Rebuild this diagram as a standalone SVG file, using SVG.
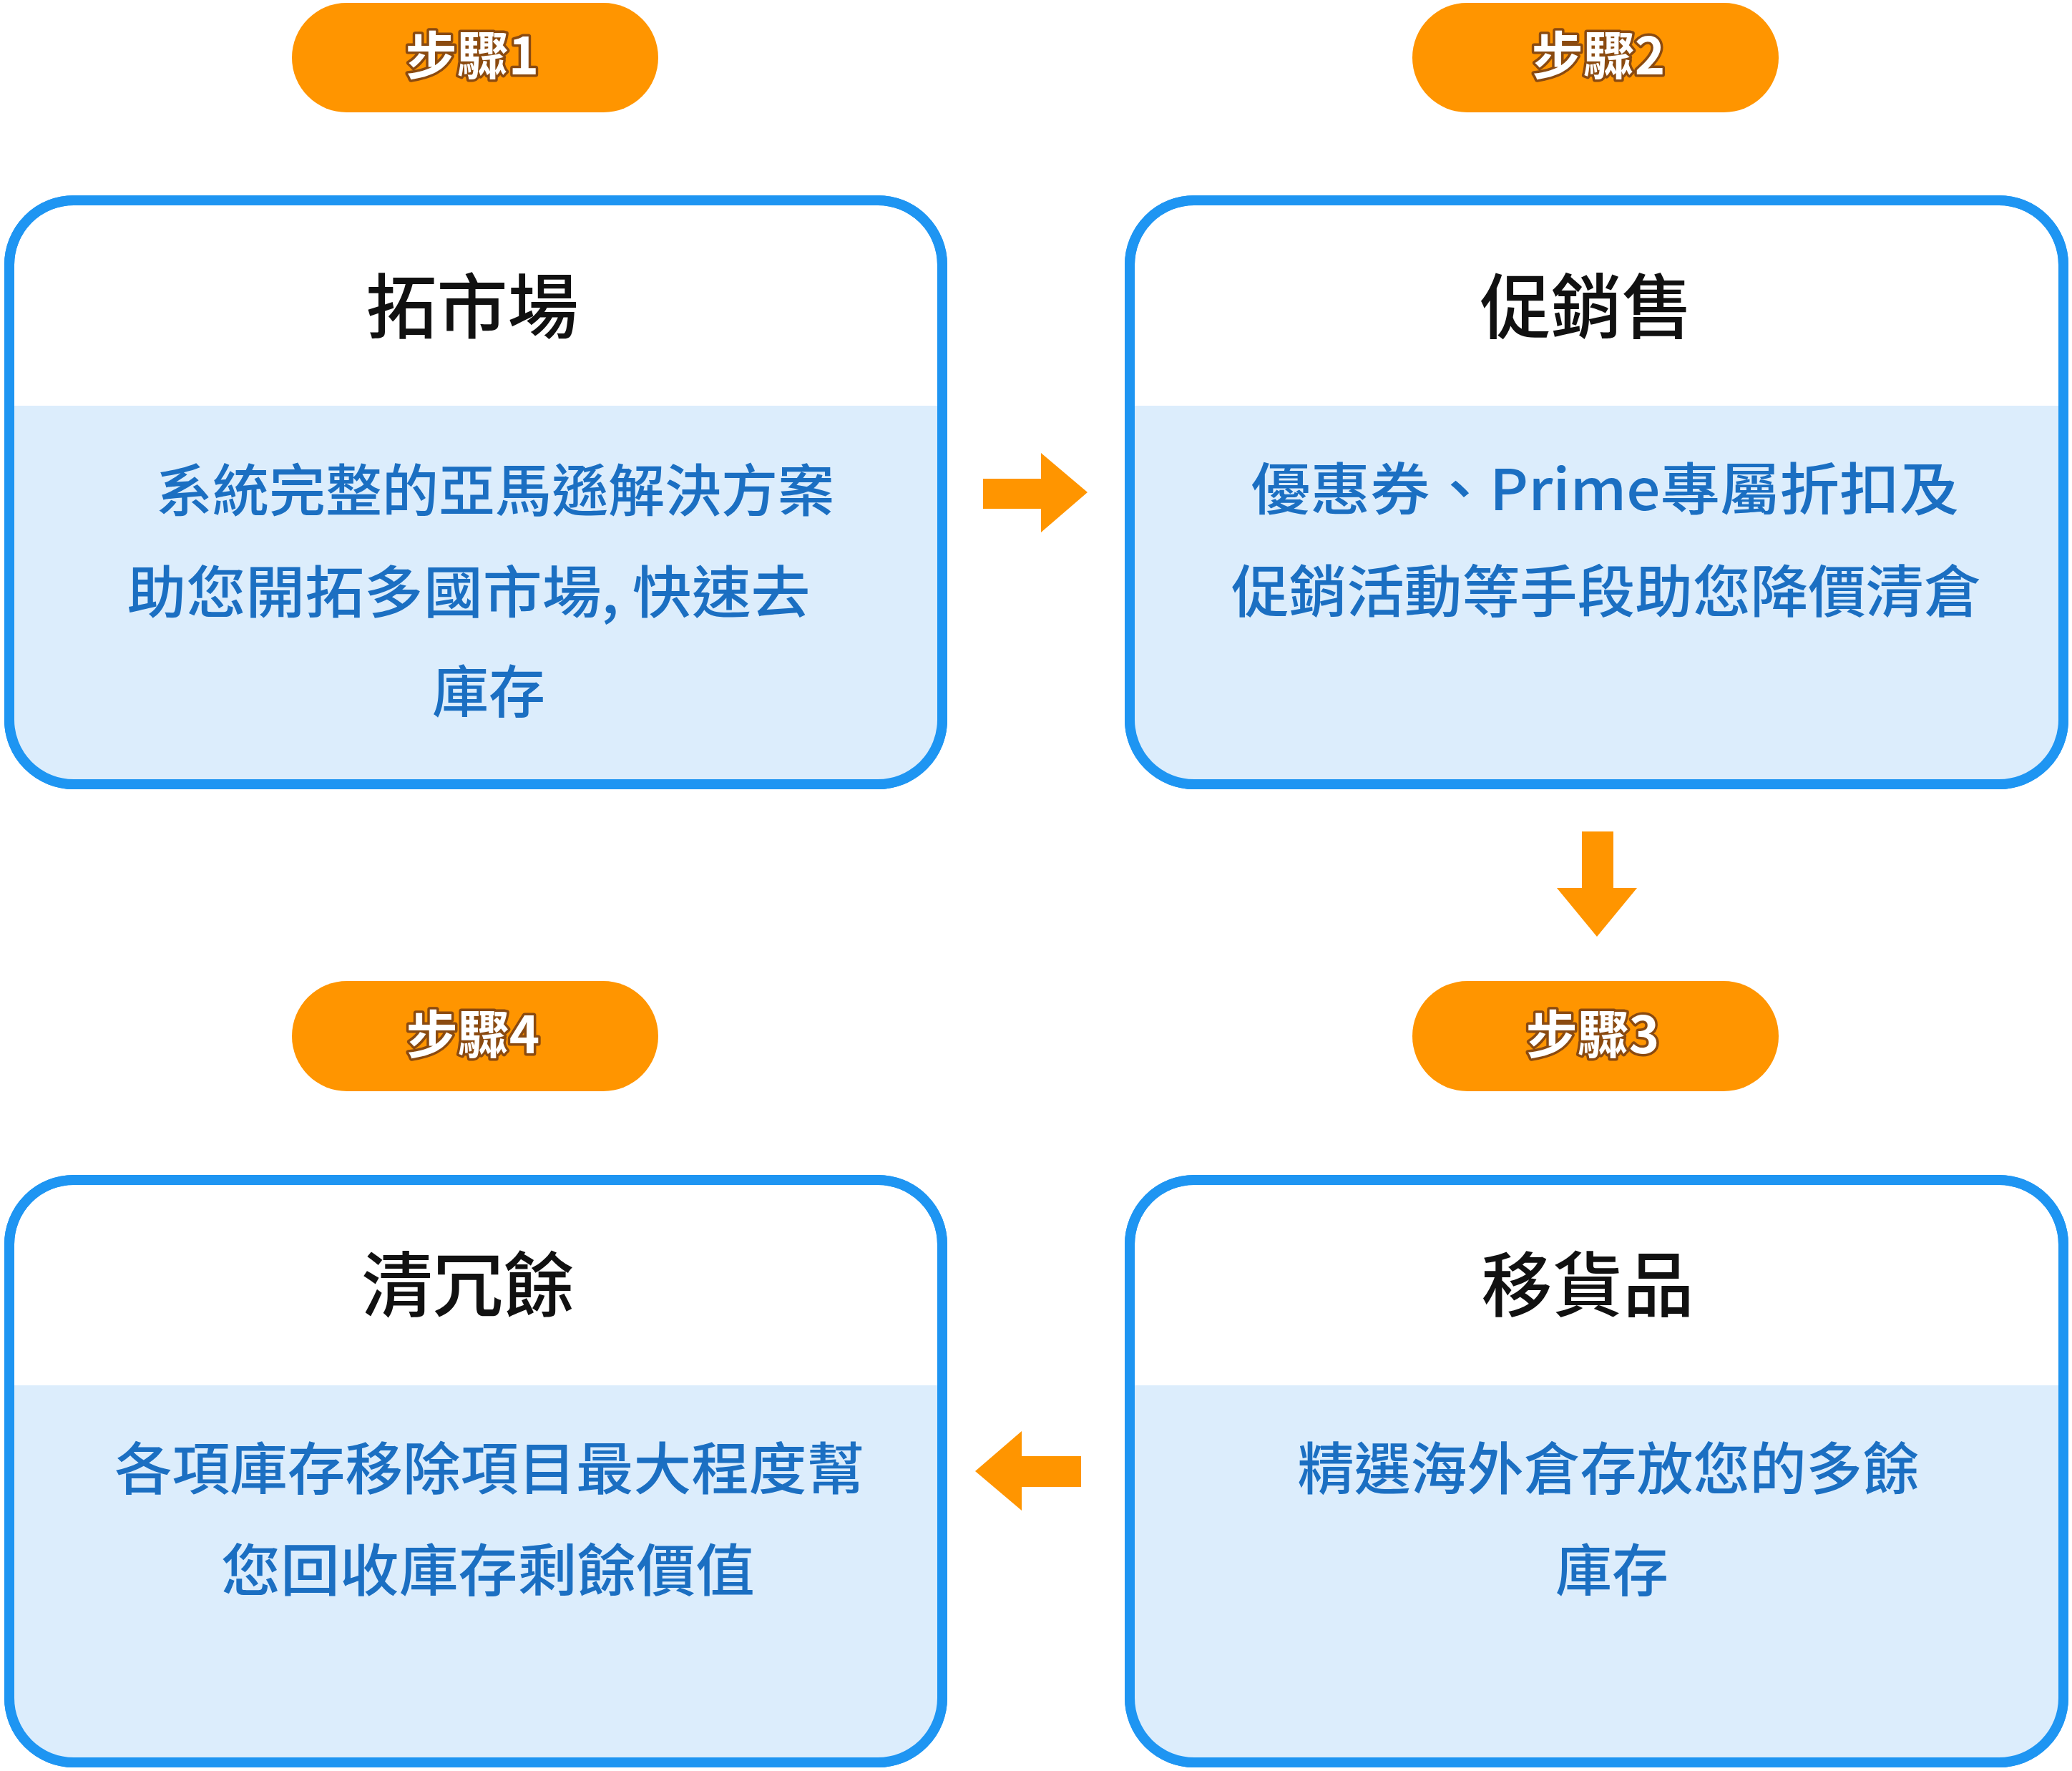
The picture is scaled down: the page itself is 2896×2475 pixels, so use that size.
<svg xmlns="http://www.w3.org/2000/svg" width="2896" height="2475" viewBox="0 0 2896 2475">
<style>
.box{fill:#ffffff;stroke:#1e95f2;stroke-width:14}
.band{fill:#dcedfc}
.pill{fill:#ff9500}
.pt{font-family:"Noto Sans CJK TC","Noto Sans CJK SC",sans-serif;font-size:72px;font-weight:700;fill:#ffffff;stroke:#8a4a10;stroke-width:7;paint-order:stroke;stroke-linejoin:round;text-anchor:middle}
.title{font-family:"Noto Sans CJK TC","Noto Sans CJK SC",sans-serif;font-size:99px;font-weight:500;fill:#111111;text-anchor:middle}
.body{font-family:"Noto Sans CJK TC","Noto Sans CJK SC",sans-serif;font-size:79px;font-weight:500;fill:#1b6fc2;text-anchor:middle}
.arrow{fill:#ff9500}
</style>
<defs>
<clipPath id="c1"><rect x="13" y="280" width="1304" height="816" rx="90"/></clipPath>
<clipPath id="c2"><rect x="1579" y="280" width="1305" height="816" rx="90"/></clipPath>
<clipPath id="c3"><rect x="1579" y="1649" width="1305" height="814" rx="90"/></clipPath>
<clipPath id="c4"><rect x="13" y="1649" width="1304" height="814" rx="90"/></clipPath>
</defs>
<rect width="2896" height="2475" fill="#ffffff"/>

<g id="step1">
<rect class="pill" x="408" y="4" width="512" height="153" rx="76.5"/>
<text class="pt" x="660" y="104">步驟1</text>
</g>
<g id="step2">
<rect class="pill" x="1974" y="4" width="512" height="153" rx="76.5"/>
<text class="pt" x="2234" y="104">步驟2</text>
</g>
<g id="step3">
<rect class="pill" x="1974" y="1371" width="512" height="154" rx="77"/>
<text class="pt" x="2226" y="1472">步驟3</text>
</g>
<g id="step4">
<rect class="pill" x="408" y="1371" width="512" height="154" rx="77"/>
<text class="pt" x="661" y="1472">步驟4</text>
</g>

<g id="node1">
<rect class="box" x="13" y="280" width="1304" height="816" rx="90"/>
<rect class="band" x="0" y="567" width="1330" height="540" clip-path="url(#c1)"/>
<rect x="13" y="280" width="1304" height="816" rx="90" fill="none" stroke="#1e95f2" stroke-width="14"/>
<text class="title" x="660" y="465">拓市場</text>
<text class="body" x="692" y="715">系統完整的亞馬遜解決方案</text>
<text class="body" x="655" y="857" textLength="955" lengthAdjust="spacingAndGlyphs">助您開拓多國市場, 快速去</text>
<text class="body" x="683" y="996">庫存</text>
</g>

<g id="node2">
<rect class="box" x="1579" y="280" width="1305" height="816" rx="90"/>
<rect class="band" x="1570" y="567" width="1326" height="540" clip-path="url(#c2)"/>
<rect x="1579" y="280" width="1305" height="816" rx="90" fill="none" stroke="#1e95f2" stroke-width="14"/>
<text class="title" x="2217" y="465">促銷售</text>
<text class="body" x="2243" y="713" textLength="990" lengthAdjust="spacingAndGlyphs">優惠券、Prime專屬折扣及</text>
<text class="body" x="2245" y="856" textLength="1048" lengthAdjust="spacingAndGlyphs">促銷活動等手段助您降價清倉</text>
</g>

<g id="node3">
<rect class="box" x="1579" y="1649" width="1305" height="814" rx="90"/>
<rect class="band" x="1570" y="1936" width="1326" height="540" clip-path="url(#c3)"/>
<rect x="1579" y="1649" width="1305" height="814" rx="90" fill="none" stroke="#1e95f2" stroke-width="14"/>
<text class="title" x="2219" y="1832">移貨品</text>
<text class="body" x="2248" y="2082">精選海外倉存放您的多餘</text>
<text class="body" x="2253" y="2224">庫存</text>
</g>

<g id="node4">
<rect class="box" x="13" y="1649" width="1304" height="814" rx="90"/>
<rect class="band" x="0" y="1936" width="1330" height="540" clip-path="url(#c4)"/>
<rect x="13" y="1649" width="1304" height="814" rx="90" fill="none" stroke="#1e95f2" stroke-width="14"/>
<text class="title" x="654" y="1832">清冗餘</text>
<text class="body" x="684" y="2082" textLength="1048" lengthAdjust="spacingAndGlyphs">各項庫存移除項目最大程度幫</text>
<text class="body" x="682" y="2224" textLength="746" lengthAdjust="spacingAndGlyphs">您回收庫存剩餘價值</text>
</g>

<g id="connectors">
<polygon class="arrow" points="1374,669 1455,669 1455,633 1520,688 1455,744 1455,711 1374,711"/>
<polygon class="arrow" points="2211,1162 2255,1162 2255,1241 2288,1241 2232,1309 2176,1241 2211,1241"/>
<polygon class="arrow" points="1511,2035 1428,2035 1428,2000 1363,2056 1428,2111 1428,2078 1511,2078"/>
</g>
</svg>
